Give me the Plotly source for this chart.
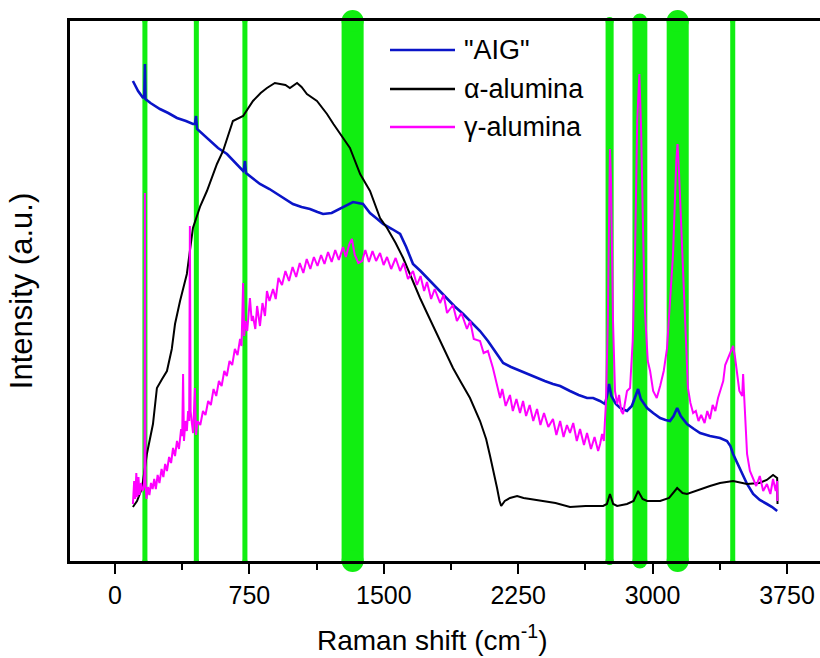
import plotly.graph_objects as go

# ---------------- data (Raman shift in cm-1, intensity in a.u.) ----------------
aig_x = [100, 129, 157, 164, 167, 170, 198, 251, 297, 346, 396, 435, 446, 452, 458, 496, 530,
         575, 625, 674, 715, 720, 725, 731, 773, 809, 862, 904, 951, 993, 1041, 1088, 1130,
         1161, 1209, 1273, 1328, 1384, 1423, 1457, 1496, 1546, 1591, 1625, 1663, 1705, 1758,
         1804, 1852, 1893, 1943, 1992, 2037, 2081, 2132, 2166, 2210, 2261, 2309, 2355, 2398,
         2444, 2484, 2539, 2587, 2634, 2668, 2706, 2734, 2745, 2757, 2770, 2795, 2819, 2857,
         2884, 2904, 2919, 2934, 2969, 3003, 3042, 3072, 3097, 3117, 3137, 3157, 3192, 3231,
         3265, 3320, 3376, 3415, 3434, 3449, 3474, 3500, 3527, 3561, 3598, 3638, 3667, 3695]
aig_y = [480, 470, 463, 466, 497, 462, 458, 452, 448, 443, 440, 437, 437, 445, 432, 426, 420,
         413, 407, 398, 390, 392, 400, 388, 382, 377, 372, 367, 362, 357, 354, 352, 349,
         347, 348, 354, 359, 357, 348, 343, 337, 332, 327, 314, 297, 290, 280,
         272, 263, 255, 247, 238, 230, 220, 207, 198, 194, 190, 187, 183, 180,
         177, 175, 170, 166, 163, 163, 160, 157, 165, 177, 165, 157, 153, 150,
         155, 165, 172, 162, 153, 148, 143, 141, 140, 145, 153, 145, 137, 132,
         128, 125, 123, 120, 115, 107, 97, 87, 77, 67, 61, 57, 54, 50]

alpha_x = [100, 123, 151, 178, 212, 234, 263, 290, 317, 335, 363, 401, 435, 476, 513, 569,
           603, 658, 715, 770, 813, 848, 892, 921, 951, 976, 1016, 1041, 1071, 1127, 1183,
           1219, 1256, 1311, 1368, 1423, 1479, 1518, 1566, 1608, 1655, 1702, 1749, 1797,
           1843, 1886, 1933, 1981, 2037, 2071, 2093, 2116, 2132, 2146, 2155, 2175, 2204,
           2244, 2280, 2316, 2389, 2458, 2539, 2626, 2724, 2745, 2762, 2780, 2802, 2857,
           2894, 2919, 2944, 2969, 3042, 3092, 3137, 3167, 3192, 3265, 3320, 3376, 3449,
           3527, 3595, 3637, 3672, 3695, 3697]
alpha_y = [54, 60, 73, 107, 137, 173, 182, 190, 212, 237, 260, 287, 333, 355, 370, 397,
           410, 440, 445, 460, 468, 473, 478, 477, 476, 473, 478, 474, 467, 460, 447,
           437, 427, 413, 387, 370, 343, 333, 318, 303, 283, 263, 245, 227,
           210, 193, 178, 163, 140, 122, 105, 88, 73, 60, 55, 60, 63,
           65, 63, 62, 60, 58, 54, 55, 55, 57, 67, 57, 55, 57,
           60, 70, 62, 60, 60, 63, 73, 68, 67, 72, 75, 78, 80,
           77, 78, 81, 86, 83, 57]

gamma_x = [100, 107, 113, 119, 125, 131, 137, 145, 154, 161, 165, 167, 170, 176, 184, 192,
           201, 210, 219, 228, 238, 248, 260, 270, 280, 290, 302, 313, 324, 335, 346, 357,
           369, 375, 380, 385, 393, 401, 408, 414, 418, 422, 429, 436, 446, 452, 461, 476,
           491, 505, 520, 535, 550, 565, 580, 595, 610, 624, 639, 654, 669, 684, 698, 706,
           715, 721, 728, 738, 753, 763, 770, 783, 793, 809, 823, 837, 848, 862, 882, 897,
           912, 932, 951, 971, 991, 1011, 1031, 1051, 1070, 1090, 1110, 1130, 1150, 1169,
           1189, 1209, 1229, 1249, 1273, 1288, 1308, 1322, 1338, 1358, 1379, 1397, 1417,
           1437, 1457, 1479, 1499, 1518, 1541, 1566, 1591, 1611, 1635, 1663, 1685, 1705,
           1725, 1741, 1764, 1784, 1814, 1834, 1853, 1886, 1908, 1933, 1964, 1982, 2002,
           2037, 2057, 2081, 2109, 2126, 2149, 2161, 2180, 2204, 2220, 2240, 2260, 2277,
           2294, 2314, 2334, 2355, 2374, 2394, 2418, 2444, 2463, 2484, 2503, 2522, 2539,
           2557, 2577, 2595, 2617, 2634, 2656, 2676, 2696, 2707, 2718, 2728, 2740, 2750,
           2757, 2762, 2768, 2779, 2790, 2802, 2813, 2825, 2835, 2846, 2857, 2874, 2889,
           2902, 2914, 2926, 2936, 2949, 2957, 2973, 2986, 3003, 3023, 3042, 3062, 3080,
           3097, 3114, 3132, 3139, 3147, 3165, 3181, 3197, 3211, 3226, 3241, 3256, 3271,
           3290, 3305, 3320, 3335, 3350, 3365, 3376, 3394, 3405, 3415, 3429, 3443, 3449,
           3459, 3471, 3484, 3500, 3505, 3510, 3527, 3543, 3561, 3578, 3598, 3617, 3638,
           3657, 3672, 3687, 3695, 3696]
gamma_y = [57, 80, 62, 88, 64, 84, 66, 78, 70, 74, 90, 368, 80, 62, 74, 66,
           78, 72, 82, 72, 86, 78, 92, 84, 97, 90, 104, 98, 113, 105, 120, 112,
           132, 125, 187, 120, 140, 130, 150, 140, 335, 150, 138, 128, 173, 126, 140, 136,
           150, 146, 160, 156, 172, 165, 180, 175, 190, 185, 200, 196, 212, 206, 222, 215,
           278, 225, 240, 230, 263, 240, 245, 232, 255, 235, 258, 245, 270, 260, 272, 262,
           283, 276, 290, 280, 294, 284, 298, 288, 302, 292, 304, 295, 306, 297,
           309, 299, 311, 301, 314, 304, 317, 322, 306, 298, 300, 311, 299,
           310, 300, 308, 296, 304, 292, 303, 290, 298, 282, 290, 276, 285,
           270, 279, 262, 272, 258, 266, 248, 256, 240, 248, 232, 240, 222,
           220, 208, 210, 193, 180, 163, 172, 155, 166, 150, 162, 148, 160,
           145, 156, 140, 152, 136, 148, 134, 142, 126, 140, 124, 136, 128,
           138, 120, 132, 116, 128, 112, 124, 110, 117, 127, 120, 160, 240,
           380, 412, 380, 240, 170, 157, 166, 150, 147, 160, 170, 173, 220,
           307, 440, 487, 430, 310, 250, 200, 190, 170, 163, 175, 190, 212,
           260, 307, 400, 417, 390, 307, 230, 173, 158, 148, 150, 140, 146,
           138, 150, 142, 156, 150, 163, 170, 180, 196, 200, 207, 213, 215,
           205, 190, 170, 165, 187, 168, 107, 90, 83, 75, 85, 70, 77,
           67, 82, 70, 80, 60]

# highlighted Raman bands: centre and full width (cm-1)
band_centres = [167, 454, 725, 1326, 2760, 2929, 3140, 3447]
band_widths = [28, 28, 28, 123, 45, 83, 123, 28]

series_names = ['"AIG"', "\u03b1-alumina", "\u03b3-alumina"]
x_ticks = [0, 750, 1500, 2250, 3000, 3750]
x_minor = [375, 1125, 1875, 2625, 3375]
x_title = "Raman shift (cm<sup>-1</sup>)"
y_title = "Intensity (a.u.)"

# ---------------- figure ----------------
FONT = "Liberation Sans, Arial, sans-serif"
W, H = 820, 658
L, R, T, B = 70, 0, 21, 97
plot_w, plot_h = W - L - R, H - T - B
x_range = [-251, 3934]
px_per_unit = plot_w / (x_range[1] - x_range[0])

colors = ["#0a14c8", "#000000", "#ff00ff"]
widths = [2.6, 2.0, 2.0]
fig = go.Figure()
for xs, ys, name, c, w in zip([aig_x, alpha_x, gamma_x], [aig_y, alpha_y, gamma_y],
                              series_names, colors, widths):
    fig.add_trace(go.Scatter(x=xs, y=ys, mode="lines", name=name,
                             line=dict(color=c, width=w), showlegend=False))

green = "#11ee11"
shapes = []
for c, w in zip(band_centres, band_widths):
    r_paper = (w * px_per_unit / 2) / plot_h
    shapes.append(dict(type="rect", xref="x", yref="paper", x0=c - w / 2, x1=c + w / 2,
                       y0=0, y1=1, fillcolor=green, line=dict(width=0), layer="below"))
    for yc in (0, 1):
        shapes.append(dict(type="circle", xref="x", yref="paper", x0=c - w / 2, x1=c + w / 2,
                           y0=yc - r_paper, y1=yc + r_paper, fillcolor=green,
                           line=dict(width=0), layer="below"))

# custom legend
leg_x0 = (390 - L) / plot_w
leg_x1 = (455 - L) / plot_w
leg_tx = (462 - L) / plot_w
leg_ys = [(H - B - 50) / plot_h, (H - B - 89) / plot_h, (H - B - 127) / plot_h]
annotations = []
for name, c, yy in zip(series_names, colors, leg_ys):
    shapes.append(dict(type="line", xref="paper", yref="paper", x0=leg_x0, x1=leg_x1,
                       y0=yy, y1=yy, line=dict(color=c, width=2.4)))
    annotations.append(dict(text=name, xref="paper", yref="paper", x=leg_tx, y=yy,
                            xanchor="left", yanchor="middle", showarrow=False,
                            font=dict(family=FONT, size=27, color="black")))

# x-axis title placed as in the reference (slightly left of centre)
annotations.append(dict(text=x_title, xref="paper", yref="paper",
                        x=(432 - L) / plot_w, y=(H - B - 638) / plot_h,
                        xanchor="center", yanchor="middle", showarrow=False,
                        font=dict(family=FONT, size=28, color="black")))

fig.update_layout(
    width=W, height=H,
    margin=dict(l=L, r=R, t=T, b=B),
    paper_bgcolor="white", plot_bgcolor="white",
    shapes=shapes, annotations=annotations,
    showlegend=False,
    xaxis=dict(range=x_range, tickmode="array", tickvals=x_ticks,
               ticktext=[str(v) for v in x_ticks],
               ticks="outside", ticklen=10, tickwidth=2, tickcolor="black",
               minor=dict(tickvals=x_minor, ticks="outside",
                          ticklen=6, tickwidth=2, tickcolor="black"),
               showline=True, linewidth=3, linecolor="black", mirror=True,
               showgrid=False, zeroline=False,
               tickfont=dict(family=FONT, size=25, color="black")),
    yaxis=dict(range=[0, plot_h], showticklabels=False, ticks="",
               showline=True, linewidth=3, linecolor="black", mirror=False,
               showgrid=False, zeroline=False,
               title=dict(text=y_title, standoff=26,
                          font=dict(family=FONT, size=31, color="black"))),
)

fig.write_html("out.html")
